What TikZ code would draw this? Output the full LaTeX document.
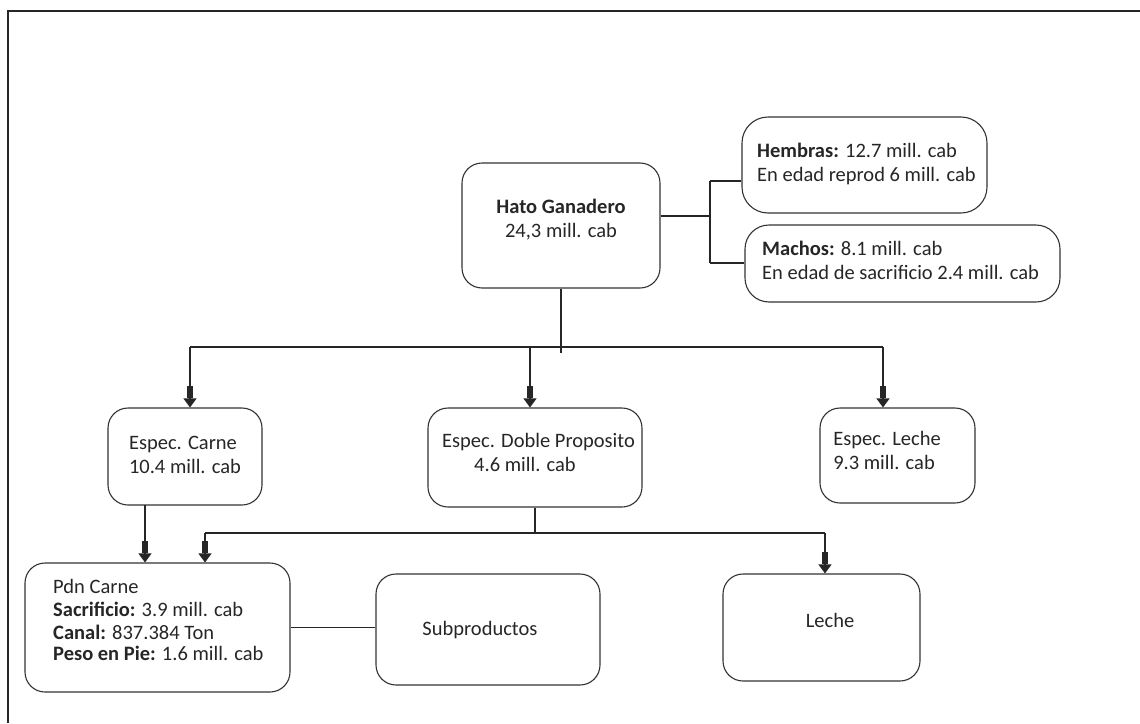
\documentclass[tikz,border=0pt]{standalone}
\usepackage{fontspec}
\setmainfont{Carlito}
\usetikzlibrary{arrows.meta}
\begin{document}
\begin{tikzpicture}[x=1pt,y=-1pt,
  box/.style={draw=black!80,line width=1.1pt,rounded corners=20pt,inner sep=0pt},
  txt/.style={inner sep=0pt,font=\fontsize{20.5}{24}\selectfont,text=black!85},
  conn/.style={draw=black!85,line width=1.1pt},
  arr/.style={conn,-{Rectangle[length=12pt,width=6pt,sep=0pt]Triangle[length=9pt,width=13pt]}}]
\useasboundingbox (0,0) rectangle (1140,723);
\draw[conn] (8,723) -- (8,11) -- (1140,11);

% boxes
\node[box,minimum width=198pt,minimum height=125pt] (hato) at (561,225.5) {};
\node[box,minimum width=245pt,minimum height=96pt,rounded corners=26pt] (hembras) at (864.5,165) {};
\node[box,minimum width=315pt,minimum height=77pt,rounded corners=24pt] (machos) at (902.5,263.5) {};
\node[box,minimum width=154pt,minimum height=97pt] (ecarne) at (185,456.5) {};
\node[box,minimum width=214pt,minimum height=99pt] (edoble) at (535,457.5) {};
\node[box,minimum width=155pt,minimum height=95pt] (eleche) at (897.5,455.5) {};
\node[box,minimum width=265pt,minimum height=129pt] (pdn) at (157.5,627.5) {};
\node[box,minimum width=224pt,minimum height=111pt] (sub) at (488,629.5) {};
\node[box,minimum width=197pt,minimum height=107pt] (leche) at (821.5,627.5) {};

% texts
\node[txt,align=center] (hato-t) at (561,220) {\textbf{Hato Ganadero}\\24,3 mill. cab};
\node[txt,align=left,anchor=west] (hembras-t) at (757,164) {\textbf{Hembras:} 12.7 mill. cab\\En edad reprod 6 mill. cab};
\node[txt,align=left,anchor=west] (machos-t) at (762,260) {\textbf{Machos:} 8.1 mill. cab\\En edad de sacrificio 2.4 mill. cab};
\node[txt,align=left] (ecarne-t) at (185,455) {Espec. Carne\\10.4 mill. cab};
\node[txt,align=left,anchor=west] (edoble-t) at (442,452) {Espec. Doble Proposito\\\hspace*{32pt}4.6 mill. cab};
\node[txt,align=left] (eleche-t) at (887,450) {Espec. Leche\\9.3 mill. cab};
\node[txt,align=left,anchor=west,font=\fontsize{20.5}{23}\selectfont] (pdn-t) at (53,620) {Pdn Carne\\\textbf{Sacrificio:} 3.9 mill. cab\\\textbf{Canal:} 837.384 Ton\\[-2pt]\textbf{Peso en Pie:} 1.6 mill. cab};
\node[txt] (sub-t) at (480,630) {Subproductos};
\node[txt] (leche-t) at (830,620) {Leche};

% Hato to Hembras / Machos
\coordinate (hj1) at (710,181);
\coordinate (hj2) at (710,263);
\draw[conn] ([yshift=9.5pt]hato.east) -- ([yshift=9.5pt]hato.east -| hj1);
\draw[conn] (hj1) -- (hj2);
\draw[conn] (hj1) -- (hj1 -| hembras.west);
\draw[conn] (hj2) -- (hj2 -| machos.west);

% Hato down to especialidades
\coordinate (a1) at (190,347);
\coordinate (a2) at (530,347);
\coordinate (a3) at (883,347);
\draw[conn] (hato.south) -- ++(0,64);
\draw[conn] (a1) -- (a3);
\draw[arr] (a1) -- (a1 |- ecarne.north);
\draw[arr] (a2) -- (a2 |- edoble.north);
\draw[arr] (a3) -- (a3 |- eleche.north);

% Espec. Carne to Pdn Carne
\coordinate (c1) at (145,505);
\draw[arr] (c1) -- (c1 |- pdn.north);

% Doble proposito split
\coordinate (d0) at (533,533);
\coordinate (d1) at (205,533);
\coordinate (d2) at (825,533);
\draw[conn] (edoble.south) -- (edoble.south |- d0);
\draw[conn] (d1) -- (d2);
\draw[arr] (d1) -- (d1 |- pdn.north);
\draw[arr] (d2) -- (d2 |- leche.north);

% Pdn Carne to Subproductos
\draw[conn] (pdn.east) -- (pdn.east -| sub.west);
\end{tikzpicture}
\end{document}
